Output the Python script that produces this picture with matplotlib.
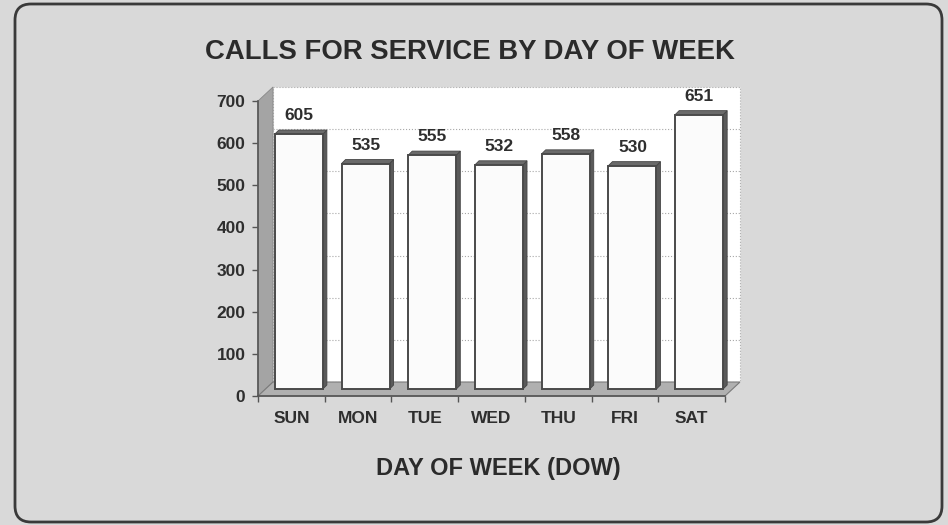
import matplotlib
matplotlib.use("Agg")
import matplotlib.pyplot as plt
from matplotlib.patches import Polygon, Rectangle, FancyBboxPatch

# data
days = ["SUN", "MON", "TUE", "WED", "THU", "FRI", "SAT"]
calls = [605, 535, 555, 532, 558, 530, 651]
y_ticks = [0, 100, 200, 300, 400, 500, 600, 700]

plt.rcParams["font.family"] = ["Liberation Sans", "DejaVu Sans"]
plt.rcParams["font.weight"] = "bold"

W, H = 948, 525
fig = plt.figure(figsize=(W / 100, H / 100), dpi=100, facecolor="#d9d9d9")

# rounded frame round the whole picture
frame = FancyBboxPatch((0.15, 0.03), 9.27, 5.18, boxstyle="round,pad=0,rounding_size=0.16",
                       transform=fig.dpi_scale_trans, facecolor="none", edgecolor="#3a3a3a", lw=2)
fig.patches.append(frame)

# front edge of the plot area, in pixels
left, right, top, bottom = 258, 725, 101, 396
ax = fig.add_axes([left / W, 1 - bottom / H, (right - left) / W, (bottom - top) / H])
ax.set_xlim(-0.5, 6.5)
ax.set_ylim(0, 700)
ax.patch.set_visible(False)

# depth of the 3d box, converted to data units
px_x = (right - left) / 7
px_y = (bottom - top) / 700
DX = 15 / px_x
DY = 14 / px_y
dx = 4 / px_x
dy = 4 / px_y

x0, x1 = -0.5, 6.5
# back wall
ax.add_patch(Rectangle((x0 + DX, DY), x1 - x0, 700, facecolor="white", edgecolor="#b0b0b0",
                       lw=0.8, ls=":", clip_on=False, zorder=1))
for v in y_ticks[1:-1]:
    ax.plot([x0 + DX, x1 + DX], [v + DY, v + DY], color="#a8a8a8", lw=0.8, ls=":",
            clip_on=False, zorder=1.5)
# left wall
ax.add_patch(Polygon([(x0, 0), (x0, 700), (x0 + DX, 700 + DY), (x0 + DX, DY)],
                     facecolor="#a4a4a4", edgecolor="#888888", lw=0.6, clip_on=False, zorder=2))
# floor
ax.add_patch(Polygon([(x0, 0), (x1, 0), (x1 + DX, DY), (x0 + DX, DY)],
                     facecolor="#b0b0b0", edgecolor="#7a7a7a", lw=0.8, clip_on=False, zorder=2))

# bars
w = 0.72
for i, v in enumerate(calls):
    bx0 = i - w / 2 + DX / 2
    bx1 = bx0 + w
    by0 = DY / 2
    by1 = v + DY / 2
    ax.add_patch(Polygon([(bx1, by0), (bx1, by1), (bx1 + dx, by1 + dy), (bx1 + dx, by0 + dy)],
                         facecolor="#5a5a5a", edgecolor="#444444", lw=0.6, clip_on=False, zorder=3))
    ax.add_patch(Polygon([(bx0, by1), (bx1, by1), (bx1 + dx, by1 + dy), (bx0 + dx, by1 + dy)],
                         facecolor="#6a6a6a", edgecolor="#444444", lw=0.6, clip_on=False, zorder=3))
    ax.add_patch(Rectangle((bx0, by0), w, v, facecolor="#fbfbfb", edgecolor="#4a4a4a",
                           lw=1.4, clip_on=False, zorder=4))
    ax.annotate(str(v), (bx0 + w / 2, by1 + dy), xytext=(0, 5), textcoords="offset points",
                ha="center", va="bottom", fontsize=12.5, fontweight="bold", color="#2e2e2e",
                annotation_clip=False)

# axes and ticks
for s in ["top", "right"]:
    ax.spines[s].set_visible(False)
for s in ["left", "bottom"]:
    ax.spines[s].set_color("#555555")
    ax.spines[s].set_linewidth(1.2)
    ax.spines[s].set_zorder(5)

ax.set_yticks(y_ticks)
ax.set_yticklabels([str(v) for v in y_ticks])
ax.tick_params(axis="y", length=4, width=1, color="#555555", pad=5,
               labelsize=12.5, labelcolor="#2e2e2e")
ax.set_xticks(range(len(days)))
ax.set_xticklabels(days)
ax.set_xticks([k - 0.5 for k in range(len(days) + 1)], minor=True)
ax.tick_params(axis="x", which="major", length=0, pad=11, labelsize=12.5, labelcolor="#2e2e2e")
ax.tick_params(axis="x", which="minor", length=4, width=1, color="#555555")
for lab in ax.get_xticklabels() + ax.get_yticklabels():
    lab.set_fontweight("bold")

fig.text(470 / W, 1 - 52 / H, "CALLS FOR SERVICE BY DAY OF WEEK", ha="center", va="center",
         fontsize=19.8, fontweight="bold", color="#2b2b2b")
fig.text(498 / W, 1 - 469 / H, "DAY OF WEEK (DOW)", ha="center", va="center",
         fontsize=17, fontweight="bold", color="#2b2b2b")

fig.savefig("out.png", dpi=100, facecolor=fig.get_facecolor())
